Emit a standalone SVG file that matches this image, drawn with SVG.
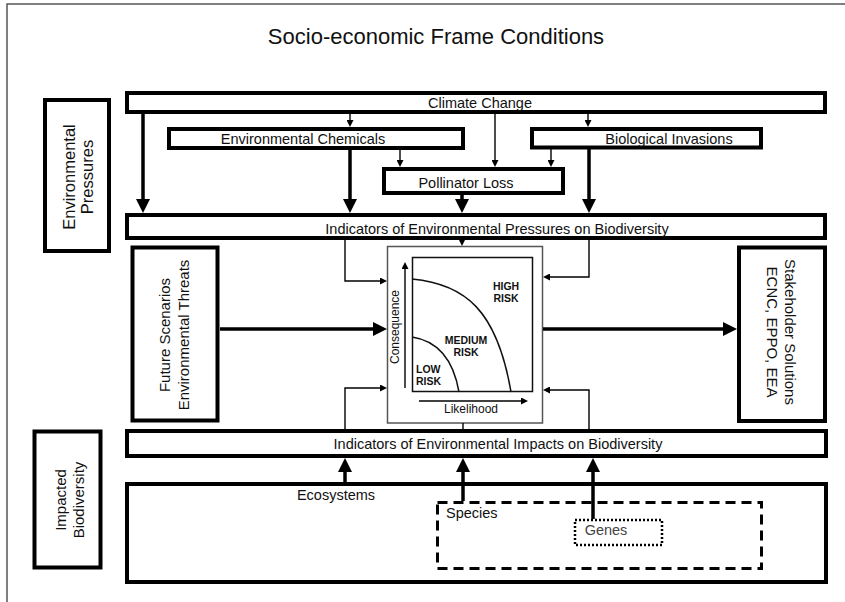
<svg xmlns="http://www.w3.org/2000/svg" width="845" height="602" viewBox="0 0 845 602">
<style>
.t{font-family:"Liberation Sans",Arial,sans-serif;font-size:14.5px;fill:#111;text-anchor:middle}
.box{fill:#fff;stroke:#000;stroke-width:4}
.thick{fill:none;stroke:#000;stroke-width:3.5}
.thin{fill:none;stroke:#000;stroke-width:1.4}
.risk{font-family:"Liberation Sans",Arial,sans-serif;font-size:10.5px;font-weight:bold;fill:#111}
</style>
<defs>
<marker id="big" markerUnits="userSpaceOnUse" markerWidth="14" markerHeight="14" viewBox="0 0 14 14" refX="8" refY="7" orient="auto"><path d="M0,0 L14,7 L0,14 z" fill="#000"/></marker>
<marker id="sm" markerUnits="userSpaceOnUse" markerWidth="7" markerHeight="7" viewBox="0 0 7 7" refX="4" refY="3.5" orient="auto"><path d="M0,0 L7,3.5 L0,7 z" fill="#000"/></marker>
</defs>
<rect width="845" height="602" fill="#fff"/>
<rect x="7" y="4" width="860" height="620" fill="none" stroke="#555" stroke-width="1.5"/>
<text class="t" x="436" y="44" style="font-size:22px">Socio-economic Frame Conditions</text>

<g id="env-pressures"><rect class="box" x="45" y="100" width="64" height="151"/>
<text class="t" transform="translate(75,177) rotate(-90)" style="font-size:16.5px">Environmental</text>
<text class="t" transform="translate(93,177) rotate(-90)" style="font-size:16.5px">Pressures</text></g>

<g id="climate"><rect class="box" x="127" y="93" width="698" height="19" stroke-width="3.5"/>
<text class="t" x="480" y="108">Climate Change</text></g>
<g id="chemicals"><rect class="box" x="169" y="129" width="294" height="19"/>
<text class="t" x="303" y="144">Environmental Chemicals</text></g>
<g id="invasions"><rect class="box" x="532" y="129" width="229" height="18.5" stroke-width="3.5"/>
<text class="t" x="669" y="144">Biological Invasions</text></g>
<g id="pollinator"><rect class="box" x="384" y="169" width="179" height="24"/>
<text class="t" x="466" y="187.5">Pollinator Loss</text></g>
<g id="ind-pressures"><rect class="box" x="127" y="215" width="698" height="23" stroke-width="3.5"/>
<text class="t" x="497" y="234">Indicators of Environmental Pressures on Biodiversity</text></g>

<g id="future"><rect class="box" x="132.5" y="247.5" width="85" height="173" stroke-width="5"/>
<text class="t" transform="translate(170,335) rotate(-90)" style="font-size:15px">Future Scenarios</text>
<text class="t" transform="translate(189,335) rotate(-90)" style="font-size:15px">Environmental Threats</text></g>

<g id="stakeholder"><rect class="box" x="739" y="247.5" width="86" height="173.5"/>
<text class="t" transform="translate(785,332) rotate(90)" style="font-size:15px">Stakeholder Solutions</text>
<text class="t" transform="translate(767,332) rotate(90)" style="font-size:15px">ECNC, EPPO, EEA</text></g>

<g id="risk-matrix">
<rect x="387.5" y="246.5" width="155" height="176.5" fill="#fff" stroke="#555" stroke-width="1.5"/>
<rect x="412.5" y="257.5" width="120" height="134" fill="none" stroke="#111" stroke-width="1.5"/>
<path d="M412,279 C465,284 497,310 511,392" fill="none" stroke="#111" stroke-width="1.5"/>
<path d="M412,337 C432,340 452,352 459,392" fill="none" stroke="#111" stroke-width="1.5"/>
<path class="thin" d="M405,388 V265" marker-end="url(#sm)" stroke-width="1.5"/>
<path class="thin" d="M419,401 H525" marker-end="url(#sm)" stroke-width="1.5"/>
<text class="t" transform="translate(399,327) rotate(-90)" style="font-size:12px">Consequence</text>
<text class="t" x="471" y="413" style="font-size:12px">Likelihood</text>
<text class="risk" x="506" y="290" text-anchor="middle">HIGH</text>
<text class="risk" x="506" y="302" text-anchor="middle">RISK</text>
<text class="risk" x="466" y="344" text-anchor="middle">MEDIUM</text>
<text class="risk" x="466" y="356" text-anchor="middle">RISK</text>
<text class="risk" x="416" y="373">LOW</text>
<text class="risk" x="416" y="385">RISK</text>
</g>

<g id="impacted"><rect class="box" x="34.5" y="431.5" width="66" height="136" stroke-width="3"/>
<text class="t" transform="translate(66,500) rotate(-90)" style="font-size:15px">Impacted</text>
<text class="t" transform="translate(84,500) rotate(-90)" style="font-size:15px">Biodiversity</text></g>

<g id="ind-impacts"><rect class="box" x="127" y="431" width="699" height="25"/>
<text class="t" x="498" y="449">Indicators of Environmental Impacts on Biodiversity</text></g>

<g id="ecosystems"><rect class="box" x="127" y="484" width="699" height="98"/>
<text class="t" x="336" y="500">Ecosystems</text></g>
<g id="species"><rect x="437.5" y="502.5" width="324" height="66" fill="none" stroke="#000" stroke-width="3" stroke-dasharray="10 6"/>
<text class="t" x="446" y="518" style="text-anchor:start">Species</text></g>
<g id="genes"><rect x="575" y="520" width="87" height="25" fill="none" stroke="#000" stroke-width="2.5" stroke-dasharray="2 2"/>
<text class="t" x="606" y="535" style="fill:#444">Genes</text></g>

<g id="connectors">
<path class="thick" d="M143,114 V207" marker-end="url(#big)"/>
<path class="thick" d="M350,150 V207" marker-end="url(#big)"/>
<path class="thick" d="M462,195 V207" marker-end="url(#big)"/>
<path class="thick" d="M589,149 V207" marker-end="url(#big)"/>
<path class="thin" d="M350,114 V124" marker-end="url(#sm)"/>
<path class="thin" d="M400,150 V164" marker-end="url(#sm)"/>
<path class="thin" d="M495,114 V164" marker-end="url(#sm)"/>
<path class="thin" d="M551,149 V164" marker-end="url(#sm)"/>
<path class="thin" d="M588,114 V124" marker-end="url(#sm)"/>
<path class="thin" d="M462,240 V243" marker-end="url(#sm)"/>
<path class="thin" d="M345,240 V281 H384" marker-end="url(#sm)"/>
<path class="thin" d="M345,429 V388 H384" marker-end="url(#sm)"/>
<path class="thin" d="M589,240 V277 H546" marker-end="url(#sm)"/>
<path class="thin" d="M589,429 V390 H546" marker-end="url(#sm)"/>
<path class="thin" d="M463,423 V429"/>
<path class="thick" d="M220,329 H381" marker-end="url(#big)" stroke-width="4"/>
<path class="thick" d="M543,329 H731" marker-end="url(#big)" stroke-width="4"/>
<path class="thick" d="M345,482 V464" marker-end="url(#big)" stroke-width="3"/>
<path class="thick" d="M463,501 V464" marker-end="url(#big)" stroke-width="3"/>
<path class="thick" d="M593,519 V464" marker-end="url(#big)" stroke-width="3"/>
</g>
</svg>
